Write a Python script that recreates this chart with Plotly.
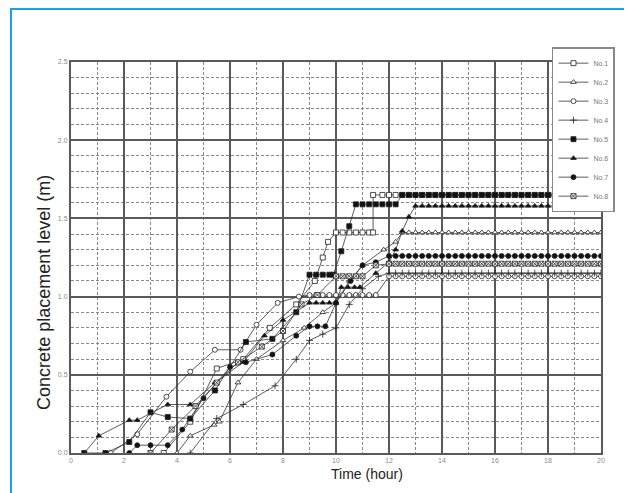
import plotly.graph_objects as go

# rising part of each record (hour, level in m)
no1_hours = [3.5, 4.5, 5.5, 6.5, 7.5, 8.5, 9.2, 9.5, 9.7, 10.0, 10.25, 10.5, 10.75, 11.0, 11.25, 11.4, 11.4, 11.75, 12.0]
no1_level = [0.0, 0.2, 0.54, 0.6, 0.8, 0.95, 1.1, 1.25, 1.35, 1.41, 1.41, 1.41, 1.41, 1.41, 1.41, 1.41, 1.65, 1.65, 1.65]

no2_hours = [4.0, 4.5, 5.4, 5.6, 6.3, 7.0, 8.0, 8.8, 9.5, 10.0, 10.5, 11.0, 11.8]
no2_level = [0.0, 0.11, 0.18, 0.2, 0.45, 0.6, 0.72, 0.8, 0.9, 0.96, 1.1, 1.2, 1.3]

no3_hours = [1.5, 2.5, 3.6, 4.5, 5.43, 6.4, 7.0, 7.8, 8.6, 9.0, 9.25, 9.5, 9.75, 10.0, 10.25, 10.5, 10.75, 11.0, 11.25, 11.5, 12.0]
no3_level = [0.0, 0.12, 0.36, 0.52, 0.66, 0.66, 0.82, 0.96, 1.0, 1.01, 1.01, 1.01, 1.01, 1.01, 1.01, 1.01, 1.01, 1.01, 1.01, 1.01, 1.13]

no4_hours = [4.5, 5.5, 6.5, 7.7, 8.5, 9.0, 9.5, 10.0, 10.5, 11.0, 11.6, 12.0]
no4_level = [0.0, 0.22, 0.31, 0.43, 0.6, 0.72, 0.76, 0.8, 0.95, 1.05, 1.13, 1.15]

no5_hours = [0.5, 1.3, 2.2, 3.0, 3.65, 4.5, 5.43, 6.6, 7.6, 8.5, 9.0, 9.25, 9.5, 9.75, 9.9, 10.2, 10.5, 10.75, 11.0, 11.25, 11.5, 11.75, 12.0]
no5_level = [0.0, 0.0, 0.07, 0.26, 0.23, 0.22, 0.4, 0.71, 0.73, 0.9, 1.14, 1.14, 1.14, 1.14, 1.14, 1.29, 1.45, 1.59, 1.59, 1.59, 1.59, 1.59, 1.59]

no6_hours = [0.5, 1.05, 2.2, 2.5, 3.65, 4.5, 5.43, 6.5, 7.3, 8.0, 9.0, 9.25, 9.5, 9.75, 10.0, 10.2, 10.45, 10.7, 10.9, 11.5, 12.0]
no6_level = [0.0, 0.11, 0.21, 0.21, 0.31, 0.31, 0.45, 0.58, 0.75, 0.85, 0.96, 0.96, 0.96, 0.96, 0.96, 1.06, 1.06, 1.06, 1.06, 1.15, 1.22]

no7_hours = [2.2, 2.5, 3.0, 3.65, 4.2, 5.0, 6.0, 6.6, 7.6, 8.5, 9.0, 9.3, 9.6, 10.0, 10.55, 11.0, 11.5, 12.0]
no7_level = [0.0, 0.05, 0.05, 0.05, 0.15, 0.35, 0.55, 0.58, 0.63, 0.75, 0.81, 0.81, 0.81, 0.96, 1.1, 1.2, 1.22, 1.26]

no8_hours = [3.0, 3.8, 4.7, 5.5, 6.3, 7.2, 8.0, 8.7, 9.3, 10.0, 10.25, 10.5, 10.75, 11.0, 11.5, 12.0]
no8_level = [0.0, 0.15, 0.3, 0.45, 0.58, 0.68, 0.78, 0.95, 1.01, 1.13, 1.13, 1.13, 1.13, 1.13, 1.2, 1.21]

# flat end of each record, shared hours
tail_hours = [12.25, 12.5, 12.75, 13.0, 13.25, 13.5, 13.75, 14.0, 14.25, 14.5, 14.75, 15.0, 15.25, 15.5, 15.75, 16.0,
              16.25, 16.5, 16.75, 17.0, 17.25, 17.5, 17.75, 18.0, 18.25, 18.5, 18.75, 19.0, 19.25, 19.5, 19.75, 20.0]
no1_tail = [1.65, 1.65, 1.65, 1.65, 1.65, 1.65, 1.65, 1.65, 1.65, 1.65, 1.65, 1.65, 1.65, 1.65, 1.65, 1.65,
            1.65, 1.65, 1.65, 1.65, 1.65, 1.65, 1.65, 1.65, 1.65, 1.65, 1.65, 1.65, 1.65, 1.65, 1.65, 1.65]
no2_tail = [1.35, 1.41, 1.41, 1.41, 1.41, 1.41, 1.41, 1.41, 1.41, 1.41, 1.41, 1.41, 1.41, 1.41, 1.41, 1.41,
            1.41, 1.41, 1.41, 1.41, 1.41, 1.41, 1.41, 1.41, 1.41, 1.41, 1.41, 1.41, 1.41, 1.41, 1.41, 1.41]
no3_tail = [1.13, 1.13, 1.13, 1.13, 1.13, 1.13, 1.13, 1.13, 1.13, 1.13, 1.13, 1.13, 1.13, 1.13, 1.13, 1.13,
            1.13, 1.13, 1.13, 1.13, 1.13, 1.13, 1.13, 1.13, 1.13, 1.13, 1.13, 1.13, 1.13, 1.13, 1.13, 1.13]
no4_tail = [1.15, 1.15, 1.15, 1.15, 1.15, 1.15, 1.15, 1.15, 1.15, 1.15, 1.15, 1.15, 1.15, 1.15, 1.15, 1.15,
            1.15, 1.15, 1.15, 1.15, 1.15, 1.15, 1.15, 1.15, 1.15, 1.15, 1.15, 1.15, 1.15, 1.15, 1.15, 1.15]
no5_tail = [1.59, 1.65, 1.65, 1.65, 1.65, 1.65, 1.65, 1.65, 1.65, 1.65, 1.65, 1.65, 1.65, 1.65, 1.65, 1.65,
            1.65, 1.65, 1.65, 1.65, 1.65, 1.65, 1.65, 1.65, 1.65, 1.65, 1.65, 1.65, 1.65, 1.65, 1.65, 1.65]
no6_tail = [1.3, 1.42, 1.51, 1.58, 1.58, 1.58, 1.58, 1.58, 1.58, 1.58, 1.58, 1.58, 1.58, 1.58, 1.58, 1.58,
            1.58, 1.58, 1.58, 1.58, 1.58, 1.58, 1.58, 1.58, 1.58, 1.58, 1.58, 1.58, 1.58, 1.58, 1.58, 1.58]
no7_tail = [1.26, 1.26, 1.26, 1.26, 1.26, 1.26, 1.26, 1.26, 1.26, 1.26, 1.26, 1.26, 1.26, 1.26, 1.26, 1.26,
            1.26, 1.26, 1.26, 1.26, 1.26, 1.26, 1.26, 1.26, 1.26, 1.26, 1.26, 1.26, 1.26, 1.26, 1.26, 1.26]
no8_tail = [1.21, 1.21, 1.21, 1.21, 1.21, 1.21, 1.21, 1.21, 1.21, 1.21, 1.21, 1.21, 1.21, 1.21, 1.21, 1.21,
            1.21, 1.21, 1.21, 1.21, 1.21, 1.21, 1.21, 1.21, 1.21, 1.21, 1.21, 1.21, 1.21, 1.21, 1.21, 1.21]

names = ['No.1', 'No.2', 'No.3', 'No.4', 'No.5', 'No.6', 'No.7', 'No.8']
hours = [no1_hours, no2_hours, no3_hours, no4_hours, no5_hours, no6_hours, no7_hours, no8_hours]
levels = [no1_level, no2_level, no3_level, no4_level, no5_level, no6_level, no7_level, no8_level]
tails = [no1_tail, no2_tail, no3_tail, no4_tail, no5_tail, no6_tail, no7_tail, no8_tail]

# symbol, fill colour
markers = [('square', 'white'), ('triangle-up', 'white'), ('circle', 'white'), ('cross-thin', '#222'),
           ('square', '#111'), ('triangle-up', '#111'), ('circle', '#111'), ('square-x', 'white')]

fig = go.Figure()
for i, name in enumerate(names):
    sym, fill = markers[i]
    fig.add_trace(go.Scatter(
        x=hours[i] + tail_hours,
        y=levels[i] + tails[i],
        mode='lines+markers',
        name=name,
        line=dict(color='#333', width=0.8),
        marker=dict(symbol=sym, size=5, color=fill, line=dict(color='#222', width=0.8)),
    ))

# page body adds 8px on the left/top, so the figure is 8px smaller
fig.update_layout(
    width=624, height=485,
    margin=dict(l=63, r=31, t=54, b=40),
    paper_bgcolor='white', plot_bgcolor='white',
    font=dict(family='Liberation Sans, Arial, sans-serif'),
    xaxis=dict(range=[0, 20], dtick=2, tick0=0, showgrid=True, gridcolor='#5a5a5a', gridwidth=2,
               showline=True, mirror=True, linecolor='#5a5a5a', linewidth=2, zeroline=False,
               ticks='', tickfont=dict(size=7, color='#8a8a8a'),
               minor=dict(dtick=1, showgrid=True, gridcolor='#888', griddash='3px,2px', gridwidth=1)),
    yaxis=dict(range=[0, 2.5], dtick=0.5, tick0=0, tickformat='.1f', showgrid=True, gridcolor='#5a5a5a',
               gridwidth=2, showline=True, mirror=True, linecolor='#5a5a5a', linewidth=2, zeroline=False,
               ticks='', tickfont=dict(size=7, color='#8a8a8a'),
               minor=dict(dtick=0.1, showgrid=True, gridcolor='#888', griddash='3px,2px', gridwidth=1)),
    legend=dict(x=0.9075, y=1.038, xanchor='left', yanchor='top', bgcolor='white',
                bordercolor='#888', borderwidth=1.5, font=dict(size=7, color='#777'),
                itemwidth=30),
    showlegend=True,
)

fig.add_annotation(text='Concrete placement level (m)', xref='paper', yref='paper',
                   x=-0.0736, y=0.412, textangle=-90, showarrow=False,
                   font=dict(size=18, color='#222'))
fig.add_annotation(text='Time (hour)', xref='paper', yref='paper',
                   x=0.5585, y=-0.0793, showarrow=False,
                   font=dict(size=14, color='#222'))

# blue page frame
fig.add_shape(type='rect', xref='paper', yref='paper', x0=-0.1132, y0=-0.2, x1=1.1, y1=1.1355,
              line=dict(color='#1ba1e2', width=2), layer='below')

fig.write_html('out.html')
